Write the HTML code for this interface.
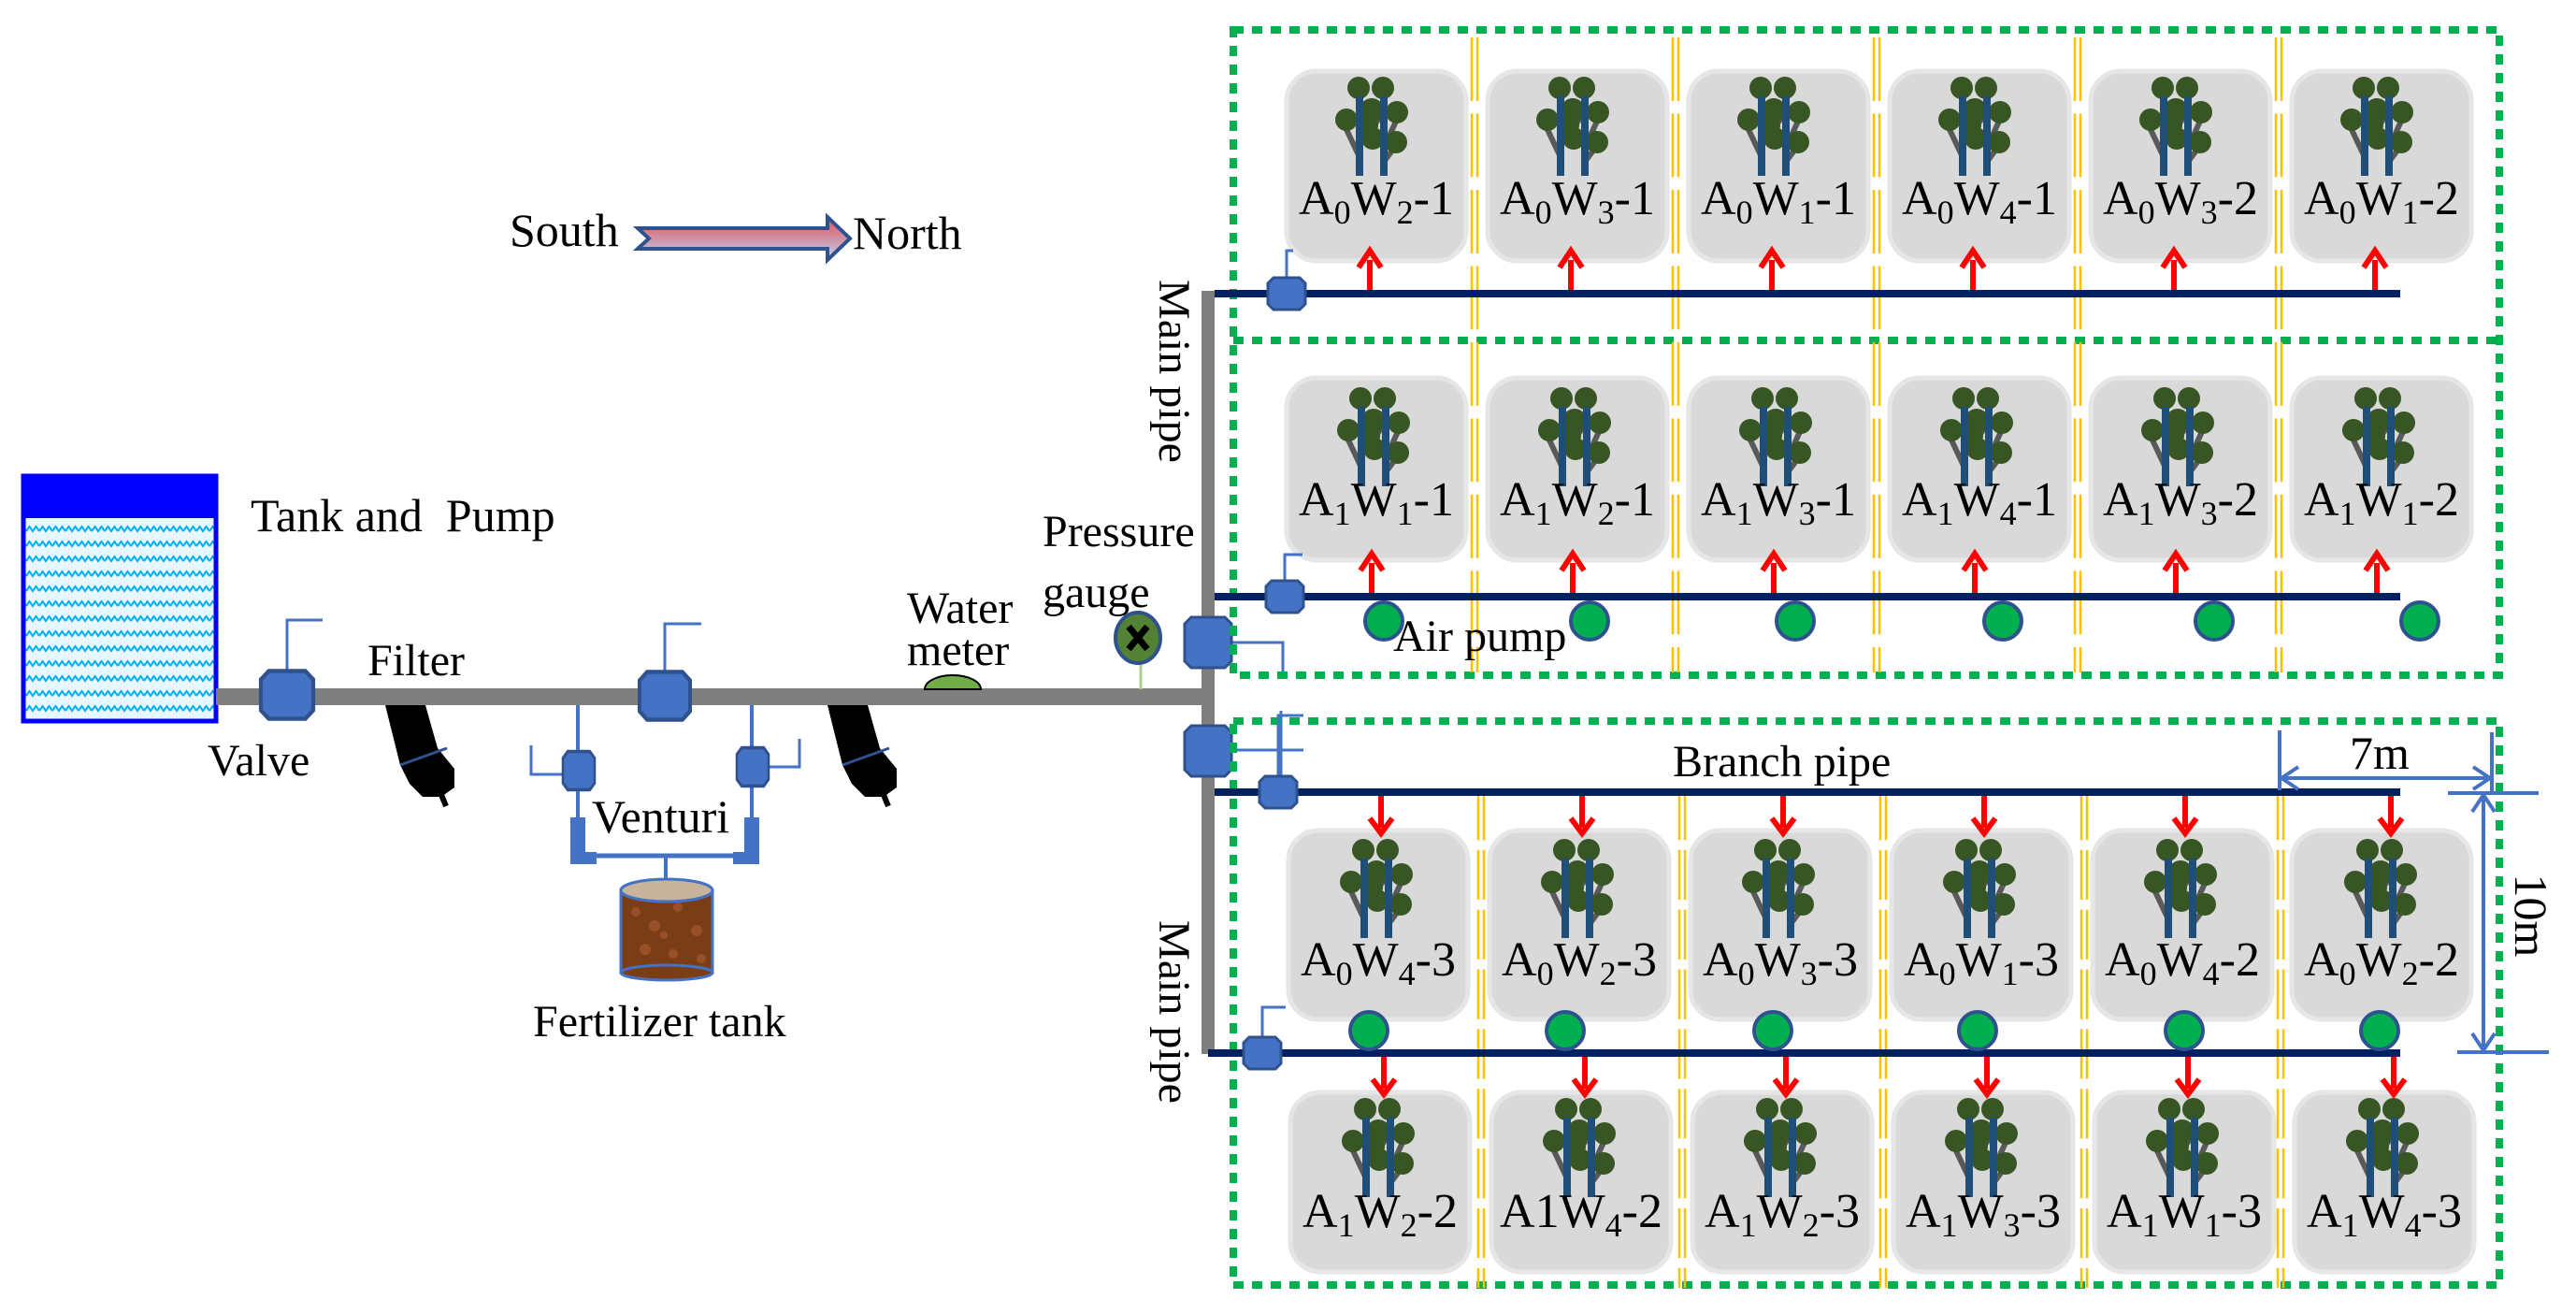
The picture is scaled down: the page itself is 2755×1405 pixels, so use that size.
<!DOCTYPE html>
<html><head><meta charset="utf-8"><style>html,body{margin:0;padding:0;background:#fff}svg{display:block}text{font-family:"Liberation Serif","Times New Roman",serif}</style></head>
<body>
<svg width="2755" height="1405" viewBox="0 0 2755 1405" xmlns="http://www.w3.org/2000/svg">
<defs>
<pattern id="wave" width="14" height="16" patternUnits="userSpaceOnUse">
<rect width="14" height="16" fill="#e8f6fd"/>
<path d="M0 8 L3.5 3 L7 8 L10.5 3 L14 8" fill="none" stroke="#00b0f0" stroke-width="2"/>
</pattern>
<linearGradient id="ag" x1="0" y1="0" x2="0" y2="1"><stop offset="0" stop-color="#e0505a"/><stop offset="1" stop-color="#c0d4f0"/></linearGradient>
<g id="tree">
<line x1="-16" y1="90" x2="-34" y2="52" stroke="#595959" stroke-width="6"/>
<line x1="-16" y1="75" x2="8" y2="45" stroke="#595959" stroke-width="6"/>
<line x1="10" y1="80" x2="26" y2="45" stroke="#595959" stroke-width="6"/>
<line x1="10" y1="95" x2="24" y2="76" stroke="#595959" stroke-width="6"/>
<g fill="#375623">
<circle cx="-17" cy="16" r="12"/><circle cx="9" cy="16" r="12"/>
<circle cx="-30" cy="50" r="12"/><circle cx="-3" cy="40" r="13"/><circle cx="24" cy="42" r="12"/>
<circle cx="23" cy="74" r="12"/><circle cx="-2" cy="70" r="12"/><circle cx="-6" cy="56" r="10"/>
</g>
<rect x="-20" y="25" width="8" height="85" fill="#1f4e79"/>
<rect x="6" y="25" width="8" height="85" fill="#1f4e79"/>
</g>
<path id="valve" d="M-14 -17 H14 L20 -11 V11 L14 17 H-14 L-20 11 V-11 Z" fill="#4472c4" stroke="#2f528f" stroke-width="3"/>
<path id="bigvalve" d="M-18 -27 H18 L25 -20 V20 L18 27 H-18 L-25 20 V-20 Z" fill="#4472c4" stroke="#2f528f" stroke-width="3"/>
<g id="uparrow"><line x1="0" y1="0" x2="0" y2="-32" stroke="#ff0000" stroke-width="6"/><path d="M-12 -24 L0 -42 L12 -24" fill="none" stroke="#ff0000" stroke-width="6"/></g>
<g id="dnarrow"><line x1="0" y1="0" x2="0" y2="34" stroke="#ff0000" stroke-width="6"/><path d="M-12 24 L0 40 L12 24" fill="none" stroke="#ff0000" stroke-width="6"/></g>
<g id="pump"><circle cx="0" cy="0" r="20" fill="#00b050" stroke="#2f528f" stroke-width="4"/></g>
<g id="ydiv"><line x1="-3" y1="0" x2="-3" y2="700" stroke="#ffc000" stroke-width="2.5" stroke-dasharray="70 14"/><line x1="3" y1="0" x2="3" y2="700" stroke="#ffc000" stroke-width="2.5" stroke-dasharray="70 14"/></g>
</defs>

<text x="545" y="263" font-size="50">South</text>
<path d="M682 244 H885 V232 L909 255 L885 278 V266 H682 L694 255 Z" fill="url(#ag)" stroke="#2f528f" stroke-width="4"/>
<text x="912" y="266" font-size="50">North</text>

<rect x="25" y="509" width="206" height="262" fill="url(#wave)" stroke="#0000ff" stroke-width="5"/>
<rect x="25" y="509" width="206" height="45" fill="#0000ff"/>
<text x="268" y="568" font-size="50" xml:space="preserve">Tank and&#160; Pump</text>

<rect x="231" y="736" width="1068" height="18" fill="#7f7f7f"/>
<rect x="1285" y="311" width="14" height="816" fill="#7f7f7f"/>

<polyline points="307,717 307,663 345,663" fill="none" stroke="#4472c4" stroke-width="3"/>
<use href="#valve" transform="translate(307,743) scale(1.4,1.5)"/>
<text x="222" y="829" font-size="48">Valve</text>
<text x="393" y="722" font-size="48">Filter</text>

<g id="filt">
<path d="M412 754 L455 754 L468 800 L486 822 L486 842 L472 852 L452 852 L438 838 L428 818 Z" fill="#000"/>
<line x1="428" y1="818" x2="478" y2="800" stroke="#2f528f" stroke-width="3"/>
<line x1="470" y1="845" x2="477" y2="862" stroke="#000" stroke-width="6"/>
</g>
<use href="#filt" transform="translate(473,0)"/>

<polyline points="711,718 711,667 750,667" fill="none" stroke="#4472c4" stroke-width="3"/>
<use href="#valve" transform="translate(711,744) scale(1.35,1.5)"/>

<g stroke="#4472c4" fill="none">
<line x1="618" y1="754" x2="618" y2="915" stroke-width="4"/>
<line x1="804" y1="754" x2="804" y2="915" stroke-width="4"/>
<line x1="618" y1="915" x2="804" y2="915" stroke-width="5"/>
<line x1="712" y1="915" x2="712" y2="945" stroke-width="4"/>
<polyline points="568,797 568,828 602,828" stroke-width="3"/>
<polyline points="855,790 855,820 822,820" stroke-width="3"/>
</g>
<rect x="610" y="874" width="16" height="50" fill="#4472c4"/>
<rect x="610" y="911" width="28" height="13" fill="#4472c4"/>
<rect x="796" y="874" width="16" height="50" fill="#4472c4"/>
<rect x="784" y="911" width="28" height="13" fill="#4472c4"/>
<use href="#valve" transform="translate(619,824) scale(0.85,1.2)"/>
<use href="#valve" transform="translate(805,820) scale(0.85,1.2)"/>
<text x="633" y="890" font-size="50">Venturi</text>

<rect x="664" y="952" width="98" height="88" fill="#7a3d16" stroke="#4472c4" stroke-width="3"/>
<g fill="#a0562a" opacity="0.8">
<circle cx="680" cy="975" r="5"/><circle cx="700" cy="990" r="6"/><circle cx="725" cy="970" r="5"/><circle cx="745" cy="995" r="6"/>
<circle cx="690" cy="1015" r="6"/><circle cx="720" cy="1020" r="5"/><circle cx="750" cy="1025" r="5"/><circle cx="710" cy="1000" r="4"/>
</g>
<ellipse cx="713" cy="1040" rx="49" ry="8" fill="#7a3d16" stroke="#4472c4" stroke-width="3"/>
<ellipse cx="713" cy="952" rx="49" ry="12" fill="#c8b49a" stroke="#4472c4" stroke-width="3"/>
<text x="570" y="1108" font-size="48">Fertilizer tank</text>

<path d="M989 737 A30 15 0 0 1 1049 737 Z" fill="#70ad47" stroke="#000" stroke-width="2"/>
<text x="970" y="666" font-size="48">Water</text>
<text x="970" y="711" font-size="48">meter</text>

<text x="1115" y="584" font-size="48">Pressure</text>
<text x="1115" y="649" font-size="48">gauge</text>
<line x1="1220" y1="710" x2="1220" y2="737" stroke="#a9d18e" stroke-width="3"/>
<ellipse cx="1217" cy="682" rx="24" ry="27" fill="#548235" stroke="#2f528f" stroke-width="4"/>
<path d="M1207 670 L1227 694 M1227 670 L1207 694" stroke="#000" stroke-width="7"/>

<text transform="translate(1240,397) rotate(90)" font-size="48" text-anchor="middle">Main pipe</text>
<text transform="translate(1240,1082) rotate(90)" font-size="48" text-anchor="middle">Main pipe</text>

<polyline points="1317,687 1372,687 1372,720" fill="none" stroke="#4472c4" stroke-width="3"/>
<polyline points="1317,802 1394,802" fill="none" stroke="#4472c4" stroke-width="3"/>
<line x1="1370" y1="760" x2="1370" y2="830" stroke="#4472c4" stroke-width="3"/>
<use href="#bigvalve" transform="translate(1292,687)"/>
<use href="#bigvalve" transform="translate(1292,803)"/>

<g fill="none" stroke="#00b050" stroke-width="8" stroke-dasharray="11 9">
<rect x="1319" y="32" width="1354" height="690"/>
<line x1="1319" y1="364" x2="2673" y2="364"/>
<rect x="1319" y="771" width="1354" height="603"/>
</g>

<use href="#ydiv" transform="translate(1577,40) scale(1,0.97)"/>
<use href="#ydiv" transform="translate(1792,40) scale(1,0.97)"/>
<use href="#ydiv" transform="translate(2007,40) scale(1,0.97)"/>
<use href="#ydiv" transform="translate(2222,40) scale(1,0.97)"/>
<use href="#ydiv" transform="translate(2437,40) scale(1,0.97)"/>
<use href="#ydiv" transform="translate(1584,845) scale(1,0.76)"/>
<use href="#ydiv" transform="translate(1799,845) scale(1,0.76)"/>
<use href="#ydiv" transform="translate(2014,845) scale(1,0.76)"/>
<use href="#ydiv" transform="translate(2229,845) scale(1,0.76)"/>
<use href="#ydiv" transform="translate(2439,845) scale(1,0.76)"/>

<g fill="#d9d9d9" stroke="#e6e6e6" stroke-width="5">
<rect x="1376" y="76" width="192" height="203" rx="32"/><rect x="1591" y="76" width="192" height="203" rx="32"/><rect x="1806" y="76" width="192" height="203" rx="32"/><rect x="2021" y="76" width="192" height="203" rx="32"/><rect x="2236" y="76" width="192" height="203" rx="32"/><rect x="2451" y="76" width="192" height="203" rx="32"/>
<rect x="1376" y="404" width="192" height="195" rx="32"/><rect x="1591" y="404" width="192" height="195" rx="32"/><rect x="1806" y="404" width="192" height="195" rx="32"/><rect x="2021" y="404" width="192" height="195" rx="32"/><rect x="2236" y="404" width="192" height="195" rx="32"/><rect x="2451" y="404" width="192" height="195" rx="32"/>
<rect x="1378" y="888" width="192" height="202" rx="32"/><rect x="1593" y="888" width="192" height="202" rx="32"/><rect x="1808" y="888" width="192" height="202" rx="32"/><rect x="2023" y="888" width="192" height="202" rx="32"/><rect x="2238" y="888" width="192" height="202" rx="32"/><rect x="2451" y="888" width="192" height="202" rx="32"/>
<rect x="1380" y="1168" width="192" height="192" rx="32"/><rect x="1595" y="1168" width="192" height="192" rx="32"/><rect x="1810" y="1168" width="192" height="192" rx="32"/><rect x="2025" y="1168" width="192" height="192" rx="32"/><rect x="2240" y="1168" width="192" height="192" rx="32"/><rect x="2454" y="1168" width="192" height="192" rx="32"/>
</g>

<use href="#tree" x="1470" y="78"/><use href="#tree" x="1685" y="78"/><use href="#tree" x="1900" y="78"/><use href="#tree" x="2115" y="78"/><use href="#tree" x="2330" y="78"/><use href="#tree" x="2545" y="78"/>
<use href="#tree" x="1472" y="410"/><use href="#tree" x="1687" y="410"/><use href="#tree" x="1902" y="410"/><use href="#tree" x="2117" y="410"/><use href="#tree" x="2332" y="410"/><use href="#tree" x="2547" y="410"/>
<use href="#tree" x="1475" y="893"/><use href="#tree" x="1690" y="893"/><use href="#tree" x="1905" y="893"/><use href="#tree" x="2120" y="893"/><use href="#tree" x="2335" y="893"/><use href="#tree" x="2549" y="893"/>
<use href="#tree" x="1477" y="1170"/><use href="#tree" x="1692" y="1170"/><use href="#tree" x="1907" y="1170"/><use href="#tree" x="2122" y="1170"/><use href="#tree" x="2337" y="1170"/><use href="#tree" x="2551" y="1170"/>

<g font-size="52" text-anchor="middle">
<text x="1472" y="229">A<tspan font-size="36" dy="10">0</tspan><tspan dy="-10">W</tspan><tspan font-size="36" dy="10">2</tspan><tspan dy="-10">-1</tspan></text>
<text x="1687" y="229">A<tspan font-size="36" dy="10">0</tspan><tspan dy="-10">W</tspan><tspan font-size="36" dy="10">3</tspan><tspan dy="-10">-1</tspan></text>
<text x="1902" y="229">A<tspan font-size="36" dy="10">0</tspan><tspan dy="-10">W</tspan><tspan font-size="36" dy="10">1</tspan><tspan dy="-10">-1</tspan></text>
<text x="2117" y="229">A<tspan font-size="36" dy="10">0</tspan><tspan dy="-10">W</tspan><tspan font-size="36" dy="10">4</tspan><tspan dy="-10">-1</tspan></text>
<text x="2332" y="229">A<tspan font-size="36" dy="10">0</tspan><tspan dy="-10">W</tspan><tspan font-size="36" dy="10">3</tspan><tspan dy="-10">-2</tspan></text>
<text x="2547" y="229">A<tspan font-size="36" dy="10">0</tspan><tspan dy="-10">W</tspan><tspan font-size="36" dy="10">1</tspan><tspan dy="-10">-2</tspan></text>

<text x="1472" y="551">A<tspan font-size="36" dy="10">1</tspan><tspan dy="-10">W</tspan><tspan font-size="36" dy="10">1</tspan><tspan dy="-10">-1</tspan></text>
<text x="1687" y="551">A<tspan font-size="36" dy="10">1</tspan><tspan dy="-10">W</tspan><tspan font-size="36" dy="10">2</tspan><tspan dy="-10">-1</tspan></text>
<text x="1902" y="551">A<tspan font-size="36" dy="10">1</tspan><tspan dy="-10">W</tspan><tspan font-size="36" dy="10">3</tspan><tspan dy="-10">-1</tspan></text>
<text x="2117" y="551">A<tspan font-size="36" dy="10">1</tspan><tspan dy="-10">W</tspan><tspan font-size="36" dy="10">4</tspan><tspan dy="-10">-1</tspan></text>
<text x="2332" y="551">A<tspan font-size="36" dy="10">1</tspan><tspan dy="-10">W</tspan><tspan font-size="36" dy="10">3</tspan><tspan dy="-10">-2</tspan></text>
<text x="2547" y="551">A<tspan font-size="36" dy="10">1</tspan><tspan dy="-10">W</tspan><tspan font-size="36" dy="10">1</tspan><tspan dy="-10">-2</tspan></text>

<text x="1474" y="1043">A<tspan font-size="36" dy="10">0</tspan><tspan dy="-10">W</tspan><tspan font-size="36" dy="10">4</tspan><tspan dy="-10">-3</tspan></text>
<text x="1689" y="1043">A<tspan font-size="36" dy="10">0</tspan><tspan dy="-10">W</tspan><tspan font-size="36" dy="10">2</tspan><tspan dy="-10">-3</tspan></text>
<text x="1904" y="1043">A<tspan font-size="36" dy="10">0</tspan><tspan dy="-10">W</tspan><tspan font-size="36" dy="10">3</tspan><tspan dy="-10">-3</tspan></text>
<text x="2119" y="1043">A<tspan font-size="36" dy="10">0</tspan><tspan dy="-10">W</tspan><tspan font-size="36" dy="10">1</tspan><tspan dy="-10">-3</tspan></text>
<text x="2334" y="1043">A<tspan font-size="36" dy="10">0</tspan><tspan dy="-10">W</tspan><tspan font-size="36" dy="10">4</tspan><tspan dy="-10">-2</tspan></text>
<text x="2547" y="1043">A<tspan font-size="36" dy="10">0</tspan><tspan dy="-10">W</tspan><tspan font-size="36" dy="10">2</tspan><tspan dy="-10">-2</tspan></text>

<text x="1476" y="1312">A<tspan font-size="36" dy="10">1</tspan><tspan dy="-10">W</tspan><tspan font-size="36" dy="10">2</tspan><tspan dy="-10">-2</tspan></text>
<text x="1691" y="1312">A1W<tspan font-size="36" dy="10">4</tspan><tspan dy="-10">-2</tspan></text>
<text x="1906" y="1312">A<tspan font-size="36" dy="10">1</tspan><tspan dy="-10">W</tspan><tspan font-size="36" dy="10">2</tspan><tspan dy="-10">-3</tspan></text>
<text x="2121" y="1312">A<tspan font-size="36" dy="10">1</tspan><tspan dy="-10">W</tspan><tspan font-size="36" dy="10">3</tspan><tspan dy="-10">-3</tspan></text>
<text x="2336" y="1312">A<tspan font-size="36" dy="10">1</tspan><tspan dy="-10">W</tspan><tspan font-size="36" dy="10">1</tspan><tspan dy="-10">-3</tspan></text>
<text x="2550" y="1312">A<tspan font-size="36" dy="10">1</tspan><tspan dy="-10">W</tspan><tspan font-size="36" dy="10">4</tspan><tspan dy="-10">-3</tspan></text>
</g>

<g stroke="#002060" stroke-width="8">
<line x1="1299" y1="314" x2="2567" y2="314"/>
<line x1="1299" y1="638" x2="2567" y2="638"/>
<line x1="1299" y1="847" x2="2567" y2="847"/>
<line x1="1292" y1="1126" x2="2567" y2="1126"/>
</g>

<g fill="none" stroke="#4472c4" stroke-width="3">
<polyline points="1376,300 1376,268 1383,268"/>
<polyline points="1374,625 1374,593 1393,593"/>
<polyline points="1367,835 1367,765 1394,765"/>
<polyline points="1350,1112 1350,1077 1375,1077"/>
</g>
<use href="#valve" transform="translate(1376,314)"/>
<use href="#valve" transform="translate(1374,638)"/>
<use href="#valve" transform="translate(1367,847)"/>
<use href="#valve" transform="translate(1350,1126)"/>

<use href="#uparrow" x="1465" y="310"/><use href="#uparrow" x="1680" y="310"/><use href="#uparrow" x="1895" y="310"/><use href="#uparrow" x="2110" y="310"/><use href="#uparrow" x="2325" y="310"/><use href="#uparrow" x="2540" y="310"/>
<use href="#uparrow" x="1467" y="634"/><use href="#uparrow" x="1682" y="634"/><use href="#uparrow" x="1897" y="634"/><use href="#uparrow" x="2112" y="634"/><use href="#uparrow" x="2327" y="634"/><use href="#uparrow" x="2542" y="634"/>
<use href="#dnarrow" x="1477" y="851"/><use href="#dnarrow" x="1692" y="851"/><use href="#dnarrow" x="1907" y="851"/><use href="#dnarrow" x="2122" y="851"/><use href="#dnarrow" x="2337" y="851"/><use href="#dnarrow" x="2557" y="851"/>
<use href="#dnarrow" x="1480" y="1130"/><use href="#dnarrow" x="1695" y="1130"/><use href="#dnarrow" x="1910" y="1130"/><use href="#dnarrow" x="2125" y="1130"/><use href="#dnarrow" x="2340" y="1130"/><use href="#dnarrow" x="2560" y="1130"/>

<use href="#pump" x="1480" y="664"/><use href="#pump" x="1700" y="664"/><use href="#pump" x="1920" y="664"/><use href="#pump" x="2142" y="664"/><use href="#pump" x="2368" y="664"/><use href="#pump" x="2588" y="664"/>
<use href="#pump" x="1464" y="1102"/><use href="#pump" x="1674" y="1102"/><use href="#pump" x="1896" y="1102"/><use href="#pump" x="2115" y="1102"/><use href="#pump" x="2336" y="1102"/><use href="#pump" x="2545" y="1102"/>
<text x="1490" y="696" font-size="48">Air pump</text>
<text x="1789" y="830" font-size="48">Branch pipe</text>

<g stroke="#4472c4" stroke-width="4" fill="none">
<line x1="2438" y1="781" x2="2438" y2="845"/>
<line x1="2665" y1="783" x2="2665" y2="848"/>
<line x1="2440" y1="832" x2="2663" y2="832"/>
<polyline points="2458,820 2440,832 2458,844"/>
<polyline points="2645,820 2663,832 2645,844"/>
<line x1="2618" y1="848" x2="2715" y2="848"/>
<line x1="2628" y1="1125" x2="2726" y2="1125"/>
<line x1="2656" y1="850" x2="2656" y2="1123"/>
<polyline points="2644,868 2656,850 2668,868"/>
<polyline points="2644,1105 2656,1123 2668,1105"/>
</g>
<text x="2545" y="822" font-size="50" text-anchor="middle">7m</text>
<text transform="translate(2690,979) rotate(90)" font-size="50" text-anchor="middle">10m</text>
</svg>
</body></html>
